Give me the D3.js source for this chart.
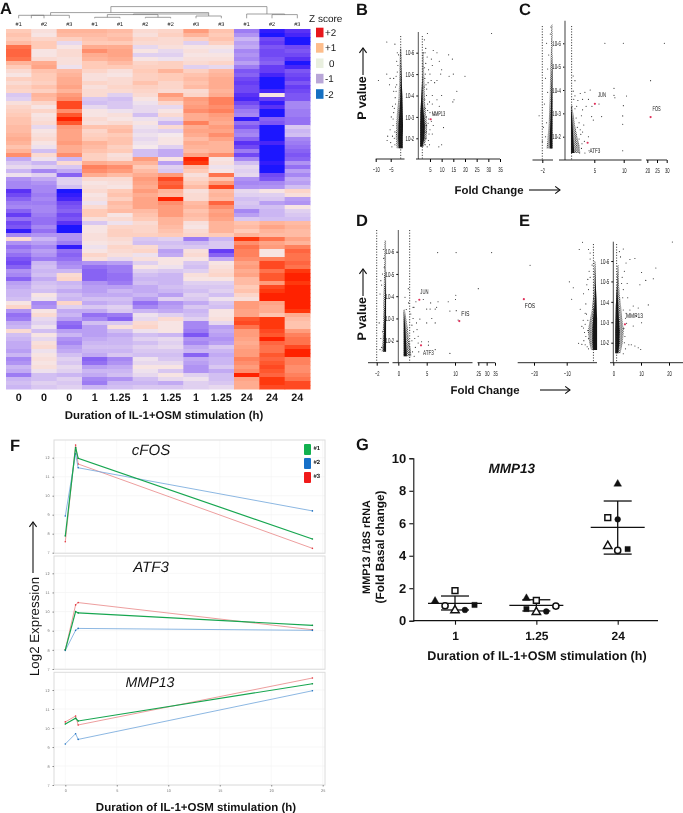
<!DOCTYPE html>
<html>
<head>
<meta charset="utf-8">
<script src="https://cdn.jsdelivr.net/npm/d3@7"></script>
<style>
  body { margin: 0; background: #fff; }
  text { font-family: "Liberation Sans", Arial, sans-serif; fill: #111; text-rendering: geometricPrecision; opacity: .99; }
</style>
</head>
<body>
<svg id="fig" width="683" height="813"></svg>
<script>
// ---------- panel A data ----------
let heatLeaves = ['#1','#2','#3','#1','#1','#2','#2','#3','#3','#1','#2','#3'];
let heatTimes = ['0','0','0','1','1.25','1','1.25','1','1.25','24','24','24'];
let zLegendValues = [['+2','#e8161c'],['+1','#fdbd8b'],['0','#e9efdf'],['-1','#b8a6d8'],['-2','#1670c2']];
// [col from, col to, height, left leg, right leg]
let dendroBrackets = [
  [0.5,2,3,0,0],[0,1,3,0,0],[3,4,1,0,0],[5,6,1,0,0],[7,8,2.3,0,0],[3.5,5.5,3.7,1,1],
  [4.53,7.5,4.3,3.7,2.3],[1.26,7.5,5.7,3,4.3],[10,11,3.7,0,0],[9,10.5,4.3,0,3.7],[3.64,9.8,11.7,5.7,4.3]
];
let heatRows = [
  [.6,.2,.9,.9,.8,.3,.4,1.2,.7,-1.1,-1.9,-1.7],[.7,.1,.8,.8,.7,.2,.5,.9,.6,-.9,-2,-1.8],
  [.6,.4,.5,.7,.8,.4,.3,.5,.7,-.6,-1.5,-2],[.8,.6,-.2,.6,.6,.3,.3,-.3,.5,-.8,-1.6,-2],
  [1.5,.6,.1,1,1,-.2,.2,.1,.1,-.7,-1.4,-1.5],[1.6,.1,.3,1.3,1.1,.1,-.2,.2,-.1,-1,-1.5,-1.4],
  [1.6,.1,.3,1,1.1,-.3,-.3,.1,.1,-.9,-1.5,-1.5],[1.5,.3,.2,.9,1,.1,-.1,.2,.2,-1,-1.4,-1.7],
  [.9,1,.2,.6,.8,.4,.5,.3,.4,-.8,-1.3,-2],[.6,1.1,-.1,.6,.6,.5,.5,-.3,-.2,-1.1,-1.6,-1.8],
  [.3,.7,.8,.4,.2,.6,.9,.5,.8,-1.4,-1.6,-1.4],[.1,.6,.9,.2,.1,.5,.6,.7,.9,-1.3,-1.8,-1.5],
  [.5,.6,1,.2,.3,.5,.6,.8,1,-1.5,-2,-1.6],[.3,.5,1,.4,.3,.7,.4,.7,1,-1.6,-2,-1.4],
  [.5,.7,1.1,.2,.4,.5,.4,.8,1,-1.5,-2,-1.6],[.4,.5,.9,.3,.3,.4,.3,.3,.9,-1.5,-1.8,-1.5],
  [-.4,.9,1.2,.3,-.3,.3,1.2,.4,1,-1.7,.1,-1.4],[-.3,.8,1.3,-.4,-.5,.1,.9,1.2,1.4,-1.8,-1.6,-1.4],
  [.2,.4,1.8,-.5,-.4,-.1,.4,1.1,1.4,-1.5,-1.9,-1],[.4,.1,1.8,-.2,-.4,-.2,-.2,1.2,1.3,-1.3,-1.7,-1],
  [.5,.4,1.3,.1,-.1,-.2,.1,1.3,1.4,-1.1,-2,-1.1],[.6,.1,1.7,.1,.2,-.5,.3,1,1.2,-1,-2,-1.1],
  [.7,.2,2,.3,.1,-.1,-.2,1,1.1,-1.9,-1.3,-1.2],[.7,.3,1.7,.2,.3,.1,-.6,1.4,1,-1.2,-1.4,-1.2],
  [.8,-.2,1.2,.7,.7,-.1,.3,1,1.2,-1.4,-2,-.4],[.8,.1,1.1,.4,.8,-.2,-.3,1.1,1.1,-1.1,-2,-.6],
  [.9,.2,1.1,.5,.6,-.1,0,1,1.3,-1,-2,-.5],[1,.3,1.1,.6,.7,-.2,.1,.8,1.1,-1.3,-2,-1],
  [.9,.1,1.2,.9,.7,-.1,.1,1,.9,-1.7,-1.8,-1.1],[.7,-.1,1,.8,.5,0,-.3,.9,.9,-1.5,-2,-1.2],
  [.9,-.5,1,.7,.6,-.5,-.7,.8,.9,-1.1,-2,-1.3],[1.3,.3,1.3,.5,.2,-.5,-.7,1.1,1.3,-1.5,-2,-1.4],
  [-.7,-.1,-.6,.5,.3,1.2,.1,2,.1,-1,-2,-1.3],[-.4,-.6,.3,1,.9,.9,-.8,1.9,.2,-.5,-1.9,-.9],
  [-.2,-.3,-.4,1.4,1.3,.6,-.3,.8,-.1,-.2,-2,-1.2],[-.6,-1,-.7,1.3,1.2,.8,-.4,.6,.1,-.3,-2,-.8],
  [-.1,-.3,-1.3,1,.8,1,1.2,.2,1.5,-.2,-1.5,-1],[-.9,-.7,-.3,.3,.3,1.2,1.8,.4,.7,-.9,-1.4,-.7],
  [-1,-.9,-.3,.1,.2,1.1,1.6,.6,1.2,-1,-1,-.8],[-1,-1,-.5,.2,.1,1,1.7,.8,1.8,-.9,-.9,-.5],
  [-1.7,-1,-2,.3,.6,1.2,.9,.2,.8,-.2,.1,.4],[-1.5,-1.1,-1.9,.1,.7,1,.8,.3,.9,-.3,-.3,.2],
  [-1.3,-1,-1.8,.2,.5,1.1,2,.3,.8,-.5,-.4,-.8],[-1.1,-1.1,-1.5,-.1,.8,1.1,1.3,.8,1.6,-.4,-.8,-.9],
  [-1,-1,-1.4,.3,.7,1.1,1.2,.9,1.3,-.5,-.5,.1],[-1.3,-1,-1.3,.6,.8,.8,1.2,.7,1.1,-1,-.6,-.3],
  [-1.6,-1.1,-1.5,.6,.1,.7,1.2,.8,1.2,-.8,-.6,-.4],[-1.2,-1.2,-1.4,.2,.3,.6,.9,.7,1.1,-.4,-.5,-.5],
  [-1.5,-1.2,-1.7,-.4,-.1,.3,.9,.2,.9,.7,.9,.8],[-1.4,-1,-2,.1,.4,.4,.8,.1,.9,.8,1.1,.9],
  [-1.9,-1.2,-2.1,.1,.5,.4,.7,.3,.9,.6,.9,.8],[-1,-.9,-.9,.2,.5,.5,.6,.4,.6,.9,.8,.8],
  [.3,-.6,-.9,.2,.3,-.4,-.3,-1.1,-.6,1.9,1.5,1.1],[-.9,-.8,-1.1,.1,.2,-.5,-.5,-.6,-.4,1.3,1.1,.9],
  [-1.2,-1,-1.9,-.1,.4,.3,-.4,-.4,-.4,1.5,1.2,1.4],[-1,-.8,-1.2,.1,.3,.4,-.8,.2,-1.6,1.4,.1,1.6],
  [-1.2,-.9,-1.3,.4,.2,-.1,-.7,.3,-1.3,1.4,.1,1.5],[-1.4,-1.1,-1.2,.2,-.2,.2,.1,.1,-.7,1.3,1.4,1.5],
  [-1.5,-.6,-1,-.9,-.8,-.3,.1,-.4,.1,1.1,1.8,1.6],[-1.3,-.5,-.9,-1.2,-1.1,.1,-.1,-.5,.2,1.2,1.8,1.5],
  [-.9,-.6,-.6,-1.3,-1.1,-.3,-.4,-.3,.3,1,1.5,1.9],[-1,-.5,.3,-1.3,-1.2,-.5,-.6,.2,.4,1.1,1.7,2],
  [-1.3,-.7,.4,-1.3,-1.2,-.6,-.6,.1,.1,.8,1.7,2],[-.8,-.5,-.6,-.9,-1.1,-.5,-.6,-.3,-.3,.8,1.2,1.9],
  [-.7,-.4,-.5,-.8,-.8,-.7,-.5,-.4,-.4,.6,1.8,2],[-.6,-.5,-.7,-.8,-.6,-.7,-.6,-.5,-.3,.7,1.9,2],
  [-.6,.1,-.5,-.7,-.7,-.6,-.8,-.3,-.5,.4,2,2],[-.5,-.1,-.6,-.5,-.5,-.8,-.3,-.4,-.1,.2,2,2],
  [.1,-1,.4,-.7,-.6,-1.2,-.9,-.7,-.4,1.2,1.1,2],[.4,-.9,-.3,-.4,-.3,-1,-.8,-.4,-.5,1.2,1,2],
  [-.9,.1,-.7,-.7,-.4,-.6,-.7,-.6,.1,1.1,1,1.9],[-1.2,.3,-.6,-1.2,-1.1,-.1,-.3,-.5,.1,1.1,.7,1],
  [-1.1,-.2,-.8,-1,-1.3,-.2,.3,-.3,.2,1.7,1.9,.8],[-.7,-.3,-1.2,-.5,-.4,.3,.1,-1,-.2,1.8,1.9,.7],
  [-.6,-.1,-1.3,-.8,.2,.4,.1,-1,-.8,1.5,1.9,.7],[.3,-.5,-.8,-.8,-.5,-.1,.1,-1.1,-.7,1.2,1.8,1.2],
  [-.5,.1,-.6,-.8,-.7,-.5,-.6,-1.4,-.8,1.2,1.7,1.4],[-.6,-.2,-.9,-.7,-.6,-.3,-.2,-.9,-.9,1.1,2,1.5],
  [-.7,.2,-1,-.6,-.6,-.5,-.3,-1,-.8,1,1.6,1.5],[-.7,.3,-.8,-.5,-.5,-.3,-.2,-.7,-.4,1.1,1.5,1.8],
  [-.8,-.1,-.7,-.6,-.6,-.4,-.4,-.6,-.6,1.2,1.5,2.1],[-.6,.1,-.5,-.7,-.4,-.5,-.5,-1.3,-.7,1.2,1.7,2.1],
  [-1,.2,-.3,-1.3,-1,-.1,-.4,-.7,-.6,1.4,1.6,1.4],[-.9,.1,-.4,-1.2,-.9,-.2,-.2,-.8,-.6,1.3,1.7,1.4],
  [-.6,.2,-.2,-.8,-.7,.1,.1,-.9,-.4,1.2,1.8,1.3],[-.7,-.1,-.3,-.6,-.6,-.1,-.4,-.9,-.7,1.3,1.7,1.3],
  [-1.1,-.5,-.6,-.7,-.5,-.2,.1,-.3,-.5,2,1.6,1.4],[-.6,-.5,-.3,-1,-.9,-.5,-.2,-.1,-.5,1.1,1.9,1.5],
  [-.5,-.3,-.4,-1.1,-.6,-.6,-.7,-.3,-.4,1,1.9,1.8],[-.6,-.4,-.3,-.6,-.5,-.4,-.4,-.3,-.2,1,1.8,1.8]
];

// ---------- volcano data: points are [fold change, log10 p] ----------
let pExps = [-6,-5,-4,-3,-2];
let pointsB = [
  [3.9,-6.9],[31.4,-6.9],[2.6,-6.6],[3.2,-6.2],[2.2,-6],[2.9,-6],[6.4,-6.1],[8,-6],[3.8,-5.8],[13,-5.9],[5.6,-5.7],[9,-5.6],[14.6,-5.7],
  [3.2,-5.5],[6,-5.4],[2.7,-5.3],[4.4,-5.2],[10,-5.2],[15,-5],[9.6,-5],[5,-5],[3,-5],[13.2,-4.9],[20,-4.9],[8,-4.7],[5.5,-4.7],[7,-4.6],
  [3.3,-4.5],[2.5,-4.4],[16.5,-4.2],[10,-4],[6,-4],[3.5,-4],[8,-3.8],[2.8,-3.8],[15.3,-3.8],[14.8,-3.7],[4,-3.6],[6,-3.6],[3,-3.4],[9,-3.5],
  [5,-3.2],[3.5,-3],[4.5,-2.9],[7,-3.1],[10.8,-2.5],[3.5,-2.6],[5,-2.4],[2.6,-2.3],[6,-2.2],[3.2,-2],[4.3,-1.9],[3,-1.7],[4.8,-1.7],[8.8,-1.6],
  [10,-1.7],[4.2,-2.7],[5.6,-2.8],[4.6,-2.2],[4,-3.3],[4.8,-3.7],[3.6,-4.3],[4.2,-4.6],[2.8,-4.8],[3.4,-2.3],[6.4,-2.6],[3.8,-1.6],
  [-6.3,-6.5],[-3.6,-6.4],[-9.1,-4.7],[-6.3,-5],[-5.4,-4.5],[-5.2,-4.8],[-2.8,-6],[-3,-5.6],[-2.8,-5.1],[-3.2,-4.9],[-4,-4.8],[-3.4,-4.4],
  [-4,-4.2],[-3.5,-3.9],[-4.4,-3.5],[-4.8,-3],[-4.2,-2.6],[-5.2,-2.4],[-6,-2.1],[-6.2,-1.9],[-5,-1.8],[-4.6,-1.6],[-3.8,-2],[-4,-3.2],[-3.4,-3.6],
  [-3.6,-2.3],[-4.2,-2.9],[-3.8,-3.4],[-3.6,-1.7],[-4.4,-2.1],[-3.2,-4.2],[-2.6,-5.4],[-2.4,-5.9],[-3,-4.5]
];
let pointsC = [
  [6.8,-6],[9.94,-6],[28.8,-6],[21.7,-4.4],[8.35,-4.07],[8.35,-3.77],[8.5,-3.67],[11.2,-3.74],[4.3,-4],[3.4,-3.9],[2.6,-3.85],[1.4,-3.95],
  [1.7,-3.75],[9.94,-3.33],[9.83,-2.89],[9.83,-2.53],[9.83,-1.4],[6.25,-2.86],[4.55,-2.86],[4.83,-2.71],[5.8,-3.4],[3,-3.15],[2,-3.3],
  [3,-3.6],[4,-3.6],[2.2,-3.55],[1.7,-4.4],[1.4,-4.6],[1.7,-3.2],[2.8,-2.9],[3.2,-2.5],[2.4,-2.6],[3,-2.2],[2.4,-1.9],[3.3,-1.8],[2.8,-1.5],
  [4,-2],[4.1,-1.4],[3.4,-1.3],[2.5,-1.3],[2.6,-2.3],[1.9,-2.8],[3.6,-3.3],[4.6,-3.3],[2.9,-1.7],[2.7,-2.1],[1.5,-3.6],[1.2,-3.3],[2.1,-2.4],
  [-2.3,-2.9],[-1.9,-2.4],[-1.7,-2],[-1.6,-2.6],[-1.8,-3.4],[-1.5,-3.9],[-1.7,-4.5],[-1.5,-4.9],[-1.4,-5.5],[-1.6,-6],[-1.2,-6.7],[-1.25,-6.4],[-2,-1.8]
];
let pointsD = [
  [6.94,-5.96],[10.7,-5.96],[33,-5.96],[25,-4.34],[10.5,-4.04],[10.3,-3.85],[8.8,-3.75],[7,-3.75],[5.7,-3.7],[4.4,-3.85],[1.76,-4.34],
  [1.18,-3.95],[3.1,-3.75],[2.76,-3.5],[5,-3.42],[5.6,-3.42],[6.5,-3.42],[6.76,-3.5],[9.1,-3.33],[10.8,-3.35],[12,-2.93],[3.8,-2.97],[5,-2.8],
  [6.5,-2.8],[5.9,-3],[9.1,-1.43],[6.5,-1.6],[5.3,-1.8],[5.3,-1.95],[4.1,-1.95],[3.5,-2.2],[2.7,-2.4],[3.2,-2.8],[2.6,-3],[2.4,-2],[3,-1.7],[2.5,-1.5],
  [3.6,-1.5],[2.2,-3.2],[2.6,-3.5],[1.4,-3.4],[3.5,-1.9],[2.9,-2.1],[2.4,-2.7],[2.8,-1.3],[1.8,-3.7],[3.3,-2.5],
  [-3.3,-2.9],[-1.5,-4.7],[-1.6,-4.1],[-1.4,-4.5],[-1.3,-2.4],[-1.5,-2.1],[-1.4,-1.7],[-1.6,-1.6],[-1.7,-2.8],[-1.2,-6.1],[-1.15,-5.7],[-1.1,-5.3],[-1.3,-5]
];
let pointsE = [
  [-5.2,-6.92],[-6.2,-6.56],[-3.4,-6.56],[-2.9,-6.39],[-21.2,-5.79],[-9.2,-4.98],[-8,-4.69],[-8.5,-4.13],[-3.9,-4.84],[-2.9,-5.2],[-2.3,-5.8],[-2.9,-6.1],
  [-5.9,-3.64],[-4.9,-4.4],[-4.4,-3.44],[-5.4,-2.8],[-4.9,-2.72],[-3.4,-4.6],[-6.4,-1.97],[-5.4,-1.92],[-4.4,-1.9],[-4.6,-2.5],[-3.6,-3.1],[-4.2,-3.9],
  [-4.8,-2.1],[-3.4,-2.2],[-3.8,-1.8],[-4.4,-2.9],[-3.2,-5.5],[-3.6,-5.1],[-3.6,-2.6],[-4,-3.4],[-3.4,-1.7],[-4.2,-2.3],[-5,-3.1],
  [21.2,-6.93],[3.6,-6.59],[6,-6.07],[7.8,-6.12],[2.2,-6.46],[4.6,-5.9],[10.2,-5.44],[15.3,-5.66],[11.7,-5.05],[14.4,-5.13],[9.6,-4.84],[12.6,-3.85],
  [5.2,-4.2],[3.6,-4.6],[7.2,-3.8],[9,-3.7],[6,-3.6],[4.6,-3.44],[8.4,-3.28],[10.2,-2.98],[7.2,-2.82],[7.8,-1.84],[9,-1.75],[9.9,-1.67],[3.6,-1.46],[4.8,-2.95],[3.6,-3.6],[4.2,-2.3],
  [2.6,-6.2],[4,-5.5],[3.2,-5.2],[3,-4.9],[5,-4.9],[5.6,-1.9],[6.5,-1.9],[4.4,-1.7],[3.8,-2.7],[4.4,-3.2],[3.4,-4.2],[4,-2]
];
let genesB = [['MMP13',5.3,-2.89]];
let genesC = [['JUN',5.1,-3.41],['FOS',21.7,-2.84],['ATF3',3.86,-1.74]];
let genesD = [['JUN',3.7,-3.84],['FIS',12.76,-2.88],['ATF3',4,-1.79]];
let genesE = [['FOS',-23.1,-4.13],['MMP13',4.2,-2.9]];
// stems: [log10 p, inner fold change, outer speckled edge, outer solid edge]
let stemsB = [
  [[-1.53,-1,-3,-2.3],[-2,-1,-3.3,-2.5],[-2.6,-.9,-3.2,-2.4],[-3.2,-1,-2.9,-2.1],[-3.9,-1.1,-2.4,-1.8],[-4.6,-1.3,-2.2,-1.6],[-5.3,-1.4,-2.1,-1.5],[-6.2,-1.5,-1.9,-1.5]],
  [[-1.6,.8,2.4,1.8],[-2,.8,3.6,2.6],[-2.6,.8,3.8,2.8],[-3.2,.9,3.2,2.3],[-3.8,1.2,2.8,1.8],[-4.4,1.5,2.7,1.8],[-5,1.7,2.5,1.75],[-6,1.8,2.3,1.8]]
];
let stemsC = [
  [[-1.5,-1.05,-1.6,-1.3],[-2,-1.05,-1.5,-1.3],[-2.6,-1.05,-1.4,-1.25],[-3.2,-1.05,-1.35,-1.2],[-3.8,-1.05,-1.3,-1.16],[-4.4,-1.05,-1.28,-1.12],[-5,-1.05,-1.25,-1.08],[-5.6,-1.05,-1.2,-1.05],[-6.8,-1.05,-1.15,-1.05]],
  [[-1.3,1.02,2.6,1.6],[-1.6,1.02,2.5,1.5],[-2,1.02,2.1,1.4],[-2.5,1.02,1.7,1.3],[-2.9,1.02,1.5,1.2],[-3.3,1.02,1.2,1.02]]
];
let stemsD = [
  [[-1.5,-.85,-1.4,-1.2],[-2,-.85,-1.3,-1.15],[-2.6,-.85,-1.25,-1.1],[-3.2,-.85,-1.2,-1.05],[-3.8,-.85,-1.2,-1],[-4.4,-.85,-1.15,-.95],[-5.2,-.85,-1.1,-.85],[-6.5,-.85,-1.05,-.85]],
  [[-1.3,.95,2.3,1.5],[-1.6,.95,2.2,1.45],[-2,.95,1.9,1.35],[-2.5,.95,1.7,1.25],[-3,.95,1.4,1.1],[-3.4,.95,1.15,.95]]
];
let stemsE = [
  [[-1.64,-.8,-2.6,-2],[-2,-.8,-3.2,-2.2],[-2.6,-.8,-3.6,-2.2],[-3.2,-.8,-2.9,-2],[-3.6,-.9,-2.4,-1.7],[-4.2,-1,-2,-1.5],[-4.9,-1.2,-1.8,-1.4],[-6,-1.3,-1.6,-1.3]],
  [[-1.48,.7,2.6,1.8],[-2,.7,3.4,2.2],[-2.6,.7,3.8,2.3],[-3.2,.8,3.2,2],[-3.8,.9,2.8,1.8],[-4.3,1.1,2.4,1.6],[-4.75,1.3,2.1,1.5],[-5.8,1.5,1.9,1.5]]
];

// ---------- panel F data ----------
let hours = [0,1,1.25,24];
let hourTicks = [0,5,10,15,20,25];
let logTicks = [7,8,9,10,11,12];
let cfos1 = [7.88,12.54,11.97,7.72], cfos2 = [8.93,12.2,11.47,9.2], cfos3 = [7.58,12.67,11.67,7.23];
let atf1 = [8,10,9.93,9.28], atf2 = [7.97,9.02,9.12,9.02], atf3 = [8,10.35,10.47,9.05];
let mmp1 = [10.21,10.51,10.37,12.33], mmp2 = [9.16,9.7,9.4,11.96], mmp3 = [10.32,10.63,10.16,12.63];
let replicateNames = ['#1','#2','#3'];

// ---------- panel G data ----------
let gCategories = ['1','1.25','24'];
let gTicks = [0,2,4,6,8,10];
let gGroup = [0,0,0,0,0,0, 1,1,1,1,1,1, 2,2,2,2,2,2];
let gOffset = [-.245,-.122,0,0,.122,.24, -.122,-.122,0,0,.122,.24, 0,-.122,0,-.122,0,.122];
let gValue = [1.21,.92,1.85,.64,.66,.97, .72,1.38,1.25,.53,.57,.9, 8.42,6.35,6.24,4.6,4.33,4.41];
let gShape = ['T','o','s','t','O','S', 'S','T','s','t','O','o', 'T','s','O','t','o','S'];
let gMean = [1.07,.94,5.75], gUpper = [1.52,1.29,7.37], gLower = [.66,.6,4.1];

let svg = d3.select('#fig');

let defs = svg.append('defs');
defs.append('filter').attr('id', 'soft').attr('x', 0).attr('y', 0).attr('width', 1).attr('height', 1)
  .append('feGaussianBlur').attr('stdDeviation', '0.3 0.6');
let speck = defs.append('pattern').attr('id', 'speck').attr('patternUnits', 'userSpaceOnUse')
  .attr('width', 2.4).attr('height', 2.2);
speck.append('circle').attr('cx', .6).attr('cy', .5).attr('r', .6).attr('fill', '#151515');
speck.append('circle').attr('cx', 1.8).attr('cy', 1.6).attr('r', .6).attr('fill', '#151515');

let addText = function (parent, str, x, y, size, opts) {
  opts = opts || {};
  let t = parent.append('text').attr('x', x).attr('y', y).attr('font-size', size)
    .attr('text-anchor', opts.anchor || 'start')
    .attr('font-weight', opts.weight || 'normal')
    .attr('font-style', opts.style || 'normal')
    .text(str);
  if (opts.rotate) t.attr('transform', 'rotate(-90 ' + x + ' ' + y + ')');
  if (opts.fill) t.style('fill', opts.fill);
  return t;
};

let addArrow = function (x1, y1, x2, y2) {
  svg.append('line').attr('x1', x1).attr('y1', y1).attr('x2', x2).attr('y2', y2)
    .attr('stroke', '#111').attr('stroke-width', 1.1);
  let ang = Math.atan2(y2 - y1, x2 - x1), s = 6;
  let pts = [ang + 2.5, ang - 2.5].map(function (a) {
    return [x2 + s * Math.cos(a), y2 + s * Math.sin(a)];
  });
  svg.append('path').attr('d', 'M' + pts[0] + 'L' + x2 + ',' + y2 + 'L' + pts[1])
    .attr('fill', 'none').attr('stroke', '#111').attr('stroke-width', 1.1);
};

// squeeze small labels so they look like the narrow type of the figure
let squeeze = function (sel, charWidth) {
  sel.attr('lengthAdjust', 'spacingAndGlyphs')
    .attr('textLength', function () { return this.textContent.length * charWidth; });
};

let panelLetters = [['A',0,14],['B',356,15],['C',519,15],['D',356,226],['E',519,226],['F',10,451],['G',356,450]];
panelLetters.forEach(function (p) {
  addText(svg, p[0], p[1], p[2], 16.5, {weight: 'bold'});
});

// ---------- A: heatmap ----------
let drawHeatmap = function () {
  let xBand = d3.scaleBand().domain(d3.range(12)).range([6, 310]);
  let yBand = d3.scaleBand().domain(d3.range(heatRows.length)).range([29, 389]);
  let heatColor = d3.scaleLinear()
    .domain([-2, -1.7, -1.2, -.6, 0, .6, 1.2, 1.8, 2])
    .range(['#1e14ff', '#5a30f5', '#9470f3', '#cbb6f3', '#f5e9ec', '#ffcbb8', '#ff9c7c', '#ff4a20', '#ff2400'])
    .clamp(true);

  let g = svg.append('g').attr('filter', 'url(#soft)');
  heatRows.forEach(function (row, i) {
    g.selectAll(null).data(row).join('rect')
      .attr('x', function (d, c) { return xBand(c); })
      .attr('y', yBand(i))
      .attr('width', xBand.bandwidth() + .5)
      .attr('height', yBand.bandwidth() + .5)
      .attr('fill', function (d) { return heatColor(d); });
  });

  let colX = function (c) { return xBand(0) + xBand.bandwidth() * (c + .5); };
  let hY = d3.scaleLinear().domain([0, 12]).range([18.3, 6.3]);
  svg.append('g').selectAll('path').data(dendroBrackets).join('path')
    .attr('d', function (b) {
      return 'M' + colX(b[0]) + ',' + hY(b[3]) + 'V' + hY(b[2]) + 'H' + colX(b[1]) + 'V' + hY(b[4]);
    })
    .attr('fill', 'none').attr('stroke', '#777').attr('stroke-width', .7);

  heatLeaves.forEach(function (s, i) {
    addText(svg, s, colX(i), 25.5, 5.5, {anchor: 'middle'});
    addText(svg, heatTimes[i], colX(i), 401, 10.8, {anchor: 'middle', weight: 'bold'});
  });
  addText(svg, 'Duration of IL-1+OSM stimulation (h)', 164, 419, 11.4, {anchor: 'middle', weight: 'bold'});

  addText(svg, 'Z score', 309, 22, 10);
  let legendY = d3.scalePoint().domain(d3.range(zLegendValues.length)).range([32.5, 94]);
  zLegendValues.forEach(function (z, i) {
    svg.append('rect').attr('x', 316).attr('y', legendY(i) - 4.8).attr('width', 7.5).attr('height', 9.6).attr('fill', z[1]);
    addText(svg, z[0], z[0] == '0' ? 329 : 325, legendY(i) + 3.5, 9.8);
  });
};
drawHeatmap();

// ---------- B-E: volcano plots ----------
let axisZero = 0.001;

let drawVolcano = function (cfg) {
  let x = d3.scaleLinear().domain(cfg.xDomain).range(cfg.xRange);
  let y = d3.scaleLinear().domain([-6, -2]).range(cfg.yRange);
  let g = svg.append('g');

  cfg.stems.forEach(function (stem) {
    let speckled = d3.area()
      .y(function (d) { return y(d[0]); })
      .x0(function (d) { return x(d[1]); })
      .x1(function (d) { return x(d[2]); });
    let solid = d3.area()
      .y(function (d) { return y(d[0]); })
      .x0(function (d) { return x(d[1]); })
      .x1(function (d) { return x(d[3]); });
    g.append('path').attr('d', speckled(stem)).attr('fill', 'url(#speck)');
    g.append('path').attr('d', solid(stem)).attr('fill', '#151515');
  });

  cfg.thresholds.forEach(function (t) {
    g.append('line').attr('x1', x(t)).attr('x2', x(t)).attr('y1', cfg.dotTop).attr('y2', cfg.axisY)
      .attr('stroke', '#222').attr('stroke-width', .9).attr('stroke-dasharray', '1.1,1.6');
  });

  g.selectAll('circle.pt').data(cfg.points).join('circle').attr('class', 'pt')
    .attr('cx', function (d) { return x(d[0]); })
    .attr('cy', function (d) { return y(d[1]); })
    .attr('r', .55).attr('fill', '#222');

  g.selectAll('circle.gene').data(cfg.genes).join('circle').attr('class', 'gene')
    .attr('cx', function (d) { return x(d[1]); })
    .attr('cy', function (d) { return y(d[2]); })
    .attr('r', 1.1).attr('fill', '#e0305a');
  cfg.genes.forEach(function (d, i) {
    let t = addText(g, d[0], x(d[1]) + cfg.labelDx[i], y(d[2]) + cfg.labelDy[i], 7);
    squeeze(t, cfg.geneChar || 2.7);
  });

  // vertical axis with log p ticks
  let yAxis = d3.axisLeft(y).tickValues(pExps).tickSize(2)
    .tickFormat(function (d) { return '10' + d; });
  let ya = g.append('g').attr('transform', 'translate(' + x(axisZero) + ',0)').call(yAxis);
  ya.select('.domain').remove();
  ya.selectAll('text').attr('font-size', 7).attr('dx', 1);
  squeeze(ya.selectAll('text'), 2.2);
  g.append('line').attr('x1', x(axisZero)).attr('x2', x(axisZero)).attr('y1', cfg.axisTop).attr('y2', cfg.axisY)
    .attr('stroke', cfg.axisColor).attr('stroke-width', cfg.axisWidth);

  // bottom axis pieces
  cfg.pieces.forEach(function (p) {
    let axis = d3.axisBottom(x).tickValues(p.ticks).tickSize(3).tickPadding(5).tickFormat(d3.format('d'));
    let a = g.append('g').attr('transform', 'translate(0,' + cfg.axisY + ')').call(axis);
    a.select('.domain').remove();
    a.selectAll('text').attr('font-size', 7);
    squeeze(a.selectAll('text'), 2.3);
    g.append('line').attr('x1', p.x0).attr('x2', p.x1).attr('y1', cfg.axisY).attr('y2', cfg.axisY)
      .attr('stroke', '#111').attr('stroke-width', .9);
  });
};

drawVolcano({
  xDomain: [-10, 0, axisZero, 35], xRange: [375.7, 405.7, 418.3, 500],
  yRange: [52.7, 138.3], axisY: 159, axisTop: 32, dotTop: 36,
  axisColor: '#555', axisWidth: 1, thresholds: [-1.67, 1.72],
  points: pointsB, stems: stemsB, genes: genesB, labelDx: [1, 0], labelDy: [-3, 0],
  pieces: [{x0: 375.7, x1: 404.5, ticks: [-10, -5]}, {x0: 416, x1: 500, ticks: [5, 10, 15, 20, 25, 30, 35]}]
});
drawVolcano({
  xDomain: [-2, -1, 0, axisZero, 5, 10, 20, 30], xRange: [542.3, 553, 560, 565, 594.3, 623.7, 647.3, 666.7],
  yRange: [43.3, 136.7], axisY: 160, axisTop: 20.7, dotTop: 26,
  axisColor: '#888', axisWidth: 1.6, thresholds: [-2, 1.13],
  points: pointsC, stems: stemsC, genes: genesC, labelDx: [3, 2, 2], labelDy: [-7, -6, 10],
  pieces: [{x0: 532.5, x1: 553, ticks: [-2]}, {x0: 559, x1: 641.5, ticks: [5, 10]}, {x0: 646, x1: 667, ticks: [20, 25, 30]}]
});
drawVolcano({
  xDomain: [-2, -1, 0, axisZero, 5, 10, 25, 35], xRange: [376.7, 385, 392, 398.3, 426.7, 455, 478.3, 495],
  yRange: [251.7, 340.7], axisY: 362.7, axisTop: 230, dotTop: 230,
  axisColor: '#444', axisWidth: .9, thresholds: [-2, 2],
  points: pointsD, stems: stemsD, genes: genesD, labelDx: [1, 2, 2], labelDy: [-6, -5, 10],
  pieces: [{x0: 368, x1: 389, ticks: [-2]}, {x0: 392.5, x1: 472.5, ticks: [axisZero, 5, 10]}, {x0: 477.5, x1: 495, ticks: [25, 30, 35]}]
});
drawVolcano({
  xDomain: [-20, -10, 0, axisZero, 10, 20], xRange: [534, 566.7, 599.7, 613.3, 641, 669],
  yRange: [261, 342.7], axisY: 362.7, axisTop: 241.7, dotTop: 244,
  axisColor: '#333', axisWidth: .9, thresholds: [-1.9, 1.2],
  points: pointsE, stems: stemsE, genes: genesE, labelDx: [1, 1], labelDy: [9, -6], geneChar: 3.4,
  pieces: [{x0: 517.7, x1: 597, ticks: [-20, -10]}, {x0: 610, x1: 683, ticks: [axisZero, 10, 20]}]
});

addText(svg, 'P value', 366, 98, 12.5, {anchor: 'middle', weight: 'bold', rotate: true});
addArrow(363, 75, 363, 48);
addText(svg, 'P value', 366, 318.7, 12.5, {anchor: 'middle', weight: 'bold', rotate: true});
addArrow(363, 296, 363, 269);
addText(svg, 'Fold Change', 489, 194, 11.4, {anchor: 'middle', weight: 'bold'});
addArrow(529, 190, 560, 190);
addText(svg, 'Fold Change', 485, 394, 11.4, {anchor: 'middle', weight: 'bold'});
addArrow(540, 390, 570, 390);

// ---------- F: expression lines ----------
let seriesColors = ['#17a650', '#6ea4da', '#e88585'];
let dotColors = ['#0b8f3e', '#1c6fc0', '#e2343c'];
let seriesWidths = [1.2, .8, .8];
let legendSwatch = ['#12b14f', '#1670c8', '#f01a1a'];

let drawLines = function (title, rows, frameTop, frameBottom, top12, bottom7, titleX, titleY, showX) {
  let x = d3.scaleLinear().domain([0, 25]).range([65.3, 322.7]);
  let y = d3.scaleLinear().domain([7, 12]).range([bottom7, top12]);
  let g = svg.append('g');

  g.selectAll('line.gy').data(logTicks).join('line').attr('class', 'gy')
    .attr('x1', 54).attr('x2', 325)
    .attr('y1', function (d) { return y(d); }).attr('y2', function (d) { return y(d); })
    .attr('stroke', '#f2f2f2').attr('stroke-width', .6);
  g.selectAll('line.gx').data(hourTicks).join('line').attr('class', 'gx')
    .attr('x1', function (d) { return x(d); }).attr('x2', function (d) { return x(d); })
    .attr('y1', frameTop).attr('y2', frameBottom)
    .attr('stroke', '#f4f4f4').attr('stroke-width', .6);
  g.append('rect').attr('x', 54).attr('y', frameTop).attr('width', 271).attr('height', frameBottom - frameTop)
    .attr('fill', 'none').attr('stroke', '#dcdcdc').attr('stroke-width', 1);

  let line = d3.line().x(function (d, i) { return x(hours[i]); }).y(function (d) { return y(d); });
  [2, 1, 0].forEach(function (k) {
    g.append('path').attr('d', line(rows[k])).attr('fill', 'none')
      .attr('stroke', seriesColors[k]).attr('stroke-width', seriesWidths[k]);
    g.selectAll(null).data(rows[k]).join('circle')
      .attr('cx', function (d, i) { return x(hours[i]); })
      .attr('cy', function (d) { return y(d); })
      .attr('r', .8).attr('fill', dotColors[k]);
  });

  let yAxis = d3.axisLeft(y).tickValues(logTicks).tickSize(1.5).tickFormat(d3.format('d'));
  let ya = g.append('g').attr('transform', 'translate(54,0)').call(yAxis);
  ya.select('.domain').remove();
  ya.selectAll('line').attr('stroke', '#888');
  ya.selectAll('text').attr('font-size', 3.8).style('fill', '#777');

  if (showX) {
    let xAxis = d3.axisBottom(x).tickValues(hourTicks).tickSize(1.5).tickFormat(d3.format('d'));
    let xa = g.append('g').attr('transform', 'translate(0,' + frameBottom + ')').call(xAxis);
    xa.select('.domain').remove();
    xa.selectAll('line').attr('stroke', '#888');
    xa.selectAll('text').attr('font-size', 3.8).style('fill', '#777');
  }
  addText(svg, title, titleX, titleY, title == 'MMP13' ? 14.2 : 15, {anchor: 'middle', style: 'italic'});
};

drawLines('cFOS', [cfos1, cfos2, cfos3], 440, 553.3, 457.7, 552.7, 151, 454.5, false);
drawLines('ATF3', [atf1, atf2, atf3], 556, 669.3, 573.3, 669, 151, 571.5, false);
drawLines('MMP13', [mmp1, mmp2, mmp3], 672.3, 785, 690, 785, 150, 687, true);

replicateNames.forEach(function (s, i) {
  svg.append('rect').attr('x', 304).attr('y', 444 + 14 * i).attr('width', 7).attr('height', 11).attr('rx', 1).attr('fill', legendSwatch[i]);
  addText(svg, s, 313.5, 450 + 14 * i, 6, {weight: 'bold'});
});

addText(svg, 'Log2 Expression', 38.5, 626.5, 13.3, {anchor: 'middle', rotate: true});
addArrow(33, 573, 33, 522);
addText(svg, 'Duration of IL-1+OSM stimulation (h)', 196, 811, 11.5, {anchor: 'middle', weight: 'bold'});

// ---------- G: qPCR dot plot ----------
let drawDots = function () {
  let x = d3.scaleLinear().domain([0, 2]).range([455, 617.7]);
  let y = d3.scaleLinear().domain([0, 10]).range([620.7, 458.3]);
  let g = svg.append('g');

  let yAxis = d3.axisLeft(y).tickValues(gTicks).tickSize(4).tickFormat(d3.format('d'));
  let ya = g.append('g').attr('transform', 'translate(413.3,0)').call(yAxis);
  ya.selectAll('path,line').attr('stroke', '#111').attr('stroke-width', 1.1);
  ya.selectAll('text').attr('font-size', 13).attr('font-weight', 'bold');

  let xAxis = d3.axisBottom(x).tickValues([0, 1, 2]).tickSize(4)
    .tickFormat(function (d) { return gCategories[d]; });
  let xa = g.append('g').attr('transform', 'translate(0,620.7)').call(xAxis);
  xa.select('.domain').remove();
  xa.selectAll('line').attr('stroke', '#111').attr('stroke-width', 1.1);
  xa.selectAll('text').attr('font-size', 12).attr('font-weight', 'bold').attr('dy', 12);
  g.append('line').attr('x1', 413.3).attr('x2', 658).attr('y1', 620.7).attr('y2', 620.7)
    .attr('stroke', '#111').attr('stroke-width', 1.2);

  gCategories.forEach(function (c, i) {
    let stroke = {stroke: '#111', width: 1.3};
    g.append('line').attr('x1', x(i)).attr('x2', x(i)).attr('y1', y(gUpper[i])).attr('y2', y(gLower[i]))
      .attr('stroke', stroke.stroke).attr('stroke-width', stroke.width);
    g.append('line').attr('x1', x(i) - 27).attr('x2', x(i) + 27).attr('y1', y(gMean[i])).attr('y2', y(gMean[i]))
      .attr('stroke', stroke.stroke).attr('stroke-width', stroke.width);
    [gUpper[i], gLower[i]].forEach(function (v) {
      g.append('line').attr('x1', x(i) - 14).attr('x2', x(i) + 14).attr('y1', y(v)).attr('y2', y(v))
        .attr('stroke', stroke.stroke).attr('stroke-width', stroke.width);
    });
  });

  let symbolFor = {T: d3.symbolTriangle, t: d3.symbolTriangle, O: d3.symbolCircle, o: d3.symbolCircle, S: d3.symbolSquare, s: d3.symbolSquare};
  let sizeFor = {T: 26, t: 30, O: 26, o: 30, S: 28, s: 34};
  gValue.forEach(function (v, i) {
    let shape = gShape[i], open = shape == shape.toLowerCase();
    g.append('path')
      .attr('d', d3.symbol().type(symbolFor[shape]).size(sizeFor[shape])())
      .attr('transform', 'translate(' + x(gGroup[i] + gOffset[i]) + ',' + y(v) + ')')
      .attr('fill', open ? '#fff' : '#111')
      .attr('stroke', '#111').attr('stroke-width', open ? 1.5 : .4);
  });

  addText(svg, 'MMP13', 511.7, 472.5, 13.5, {anchor: 'middle', weight: 'bold', style: 'italic'});
  addText(svg, 'MMP13 /18S rRNA', 370, 547, 10.9, {anchor: 'middle', rotate: true, weight: 'bold'});
  addText(svg, '(Fold Basal change)', 384, 547, 11.9, {anchor: 'middle', rotate: true, weight: 'bold'});
  addText(svg, 'Duration of IL-1+OSM stimulation (h)', 537, 660, 12.6, {anchor: 'middle', weight: 'bold'});
};
drawDots();
</script>
</body>
</html>
